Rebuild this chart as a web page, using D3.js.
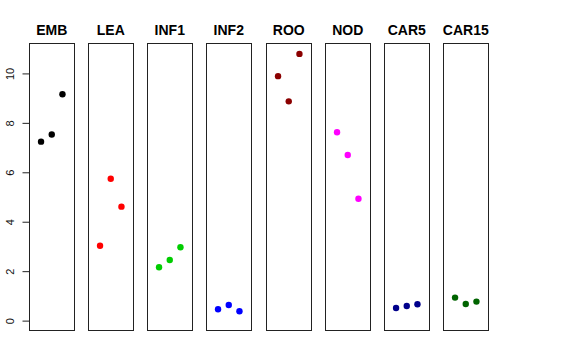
<!DOCTYPE html>
<html><head><meta charset="utf-8">
<script src="https://cdn.jsdelivr.net/npm/d3@7"></script>
<style>body{margin:0;background:#fff}svg{display:block}</style>
</head><body>
<script>
const categories = ["EMB","LEA","INF1","INF2","ROO","NOD","CAR5","CAR15"];
const colors = ["#000000","#FF0000","#00CD00","#0000FF","#8B0000","#FF00FF","#00008B","#006400"];
const replicates = [1,2,3];
const EMB = [7.24, 7.53, 9.16];
const LEA = [3.03, 5.74, 4.61];
const INF1 = [2.16, 2.45, 2.97];
const INF2 = [0.46, 0.63, 0.38];
const ROO = [9.89, 8.87, 10.79];
const NOD = [7.62, 6.70, 4.93];
const CAR5 = [0.51, 0.59, 0.66];
const CAR15 = [0.93, 0.67, 0.77];
const series = [EMB, LEA, INF1, INF2, ROO, NOD, CAR5, CAR15];
const yTicks = [0, 2, 4, 6, 8, 10];

const W = 576, H = 360;
const svg = d3.select("body").append("svg").attr("width", W).attr("height", H);

const pTop = 43.5, pBottom = 330.5;
const y = d3.scaleLinear().domain([-0.40, 11.21]).range([pBottom, pTop]);
const step = 59.14;
const pw = 44.5;

categories.forEach((cat, i) => {
  const x0 = Math.round(29 + i * step) + 0.5;
  const g = svg.append("g").attr("transform", `translate(${x0},0)`);
  const x = d3.scaleLinear().domain([-0.08, 4.08]).range([0, pw]);
  g.append("rect").attr("x", 0).attr("y", pTop).attr("width", Math.round(pw)).attr("height", pBottom - pTop)
    .attr("fill", "none").attr("stroke", "#222").attr("stroke-width", 1);
  g.selectAll("circle").data(series[i]).join("circle")
    .attr("cx", (d, j) => x(replicates[j]))
    .attr("cy", d => y(d))
    .attr("r", 3.2)
    .attr("fill", colors[i]);
  svg.append("text").attr("x", x0 + pw / 2).attr("y", 34.5)
    .attr("text-anchor", "middle").attr("font-family", "Liberation Sans, Arial, sans-serif")
    .attr("font-weight", "bold").attr("font-size", 14).text(cat);
});

const axis = d3.axisLeft(y).tickValues(yTicks).tickSize(7).tickFormat(d3.format("d"));
const ag = svg.append("g").attr("transform", "translate(29.5,0)").call(axis);
ag.select(".domain").attr("d", `M0,${y(0)}V${y(10)}`).attr("stroke", "#222");
ag.selectAll(".tick line").attr("stroke", "#222");
ag.selectAll(".tick text")
  .attr("font-family", "Liberation Sans, Arial, sans-serif").attr("font-size", 11).attr("fill", "#111")
  .attr("x", -15.5).attr("y", 0).attr("dy", null).attr("text-anchor", "middle")
  .attr("transform", "rotate(-90,-15.5,0)");
</script>
</body></html>
